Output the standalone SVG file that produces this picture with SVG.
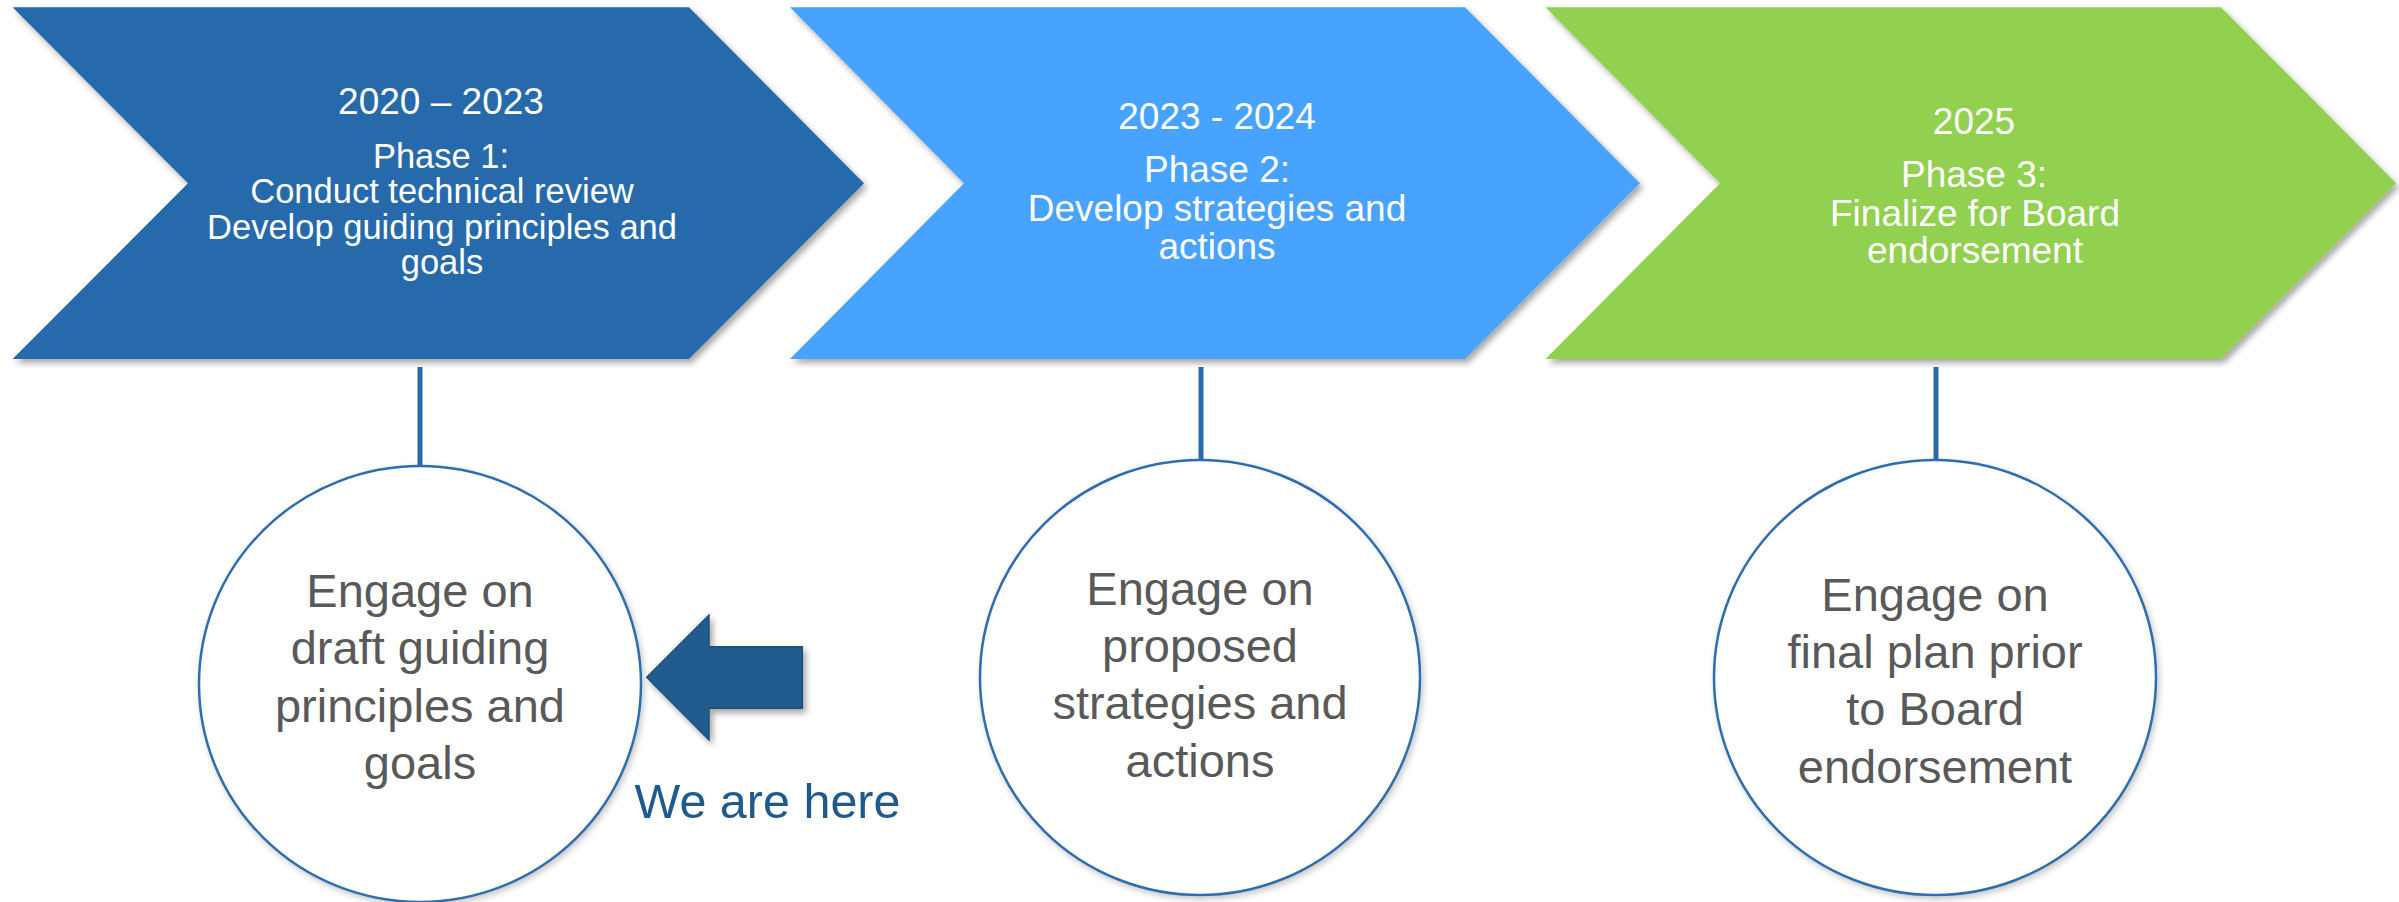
<svg xmlns="http://www.w3.org/2000/svg" width="2399" height="902" viewBox="0 0 2399 902">
<defs>
<filter id="sh" x="-5%" y="-5%" width="115%" height="120%">
<feDropShadow dx="3" dy="4" stdDeviation="3" flood-color="#000" flood-opacity="0.35"/>
</filter>
<filter id="shc" x="-5%" y="-5%" width="115%" height="115%">
<feDropShadow dx="2" dy="3" stdDeviation="3" flood-color="#000" flood-opacity="0.22"/>
</filter>
<style>
text{font-family:"Liberation Sans",Arial,sans-serif;text-anchor:middle}
.ct{fill:#ffffff}
.circ{fill:#ffffff;stroke:#2E6DB0;stroke-width:2.5}
.cx{fill:#595959;font-size:47px}
.conn{stroke:#2A6AAA;stroke-width:5;fill:none}
</style>
</defs>
<rect width="2399" height="902" fill="#ffffff"/>

<g id="phase1">
<path d="M12.6,7.3 L689,7.3 L864,183.3 L689,359 L12.6,359 L188,183.3 Z" fill="#286BAB" filter="url(#sh)"/>
<text class="ct" x="441" y="114" font-size="37">2020 – 2023</text>
<text class="ct" x="441" y="168" font-size="34.5">Phase 1:</text>
<text class="ct" x="442" y="202.5" font-size="34.5">Conduct technical review</text>
<text class="ct" x="442" y="239" font-size="34.5">Develop guiding principles and</text>
<text class="ct" x="442" y="273.5" font-size="34.5">goals</text>
</g>

<g id="phase2">
<path d="M790,7.3 L1465,7.3 L1640,183.3 L1465,359 L790,359 L964,183.3 Z" fill="#46A3FF" filter="url(#sh)"/>
<text class="ct" x="1217" y="128.5" font-size="37">2023 - 2024</text>
<text class="ct" x="1217" y="182" font-size="37">Phase 2:</text>
<text class="ct" x="1217" y="220.7" font-size="37">Develop strategies and</text>
<text class="ct" x="1217" y="258.5" font-size="37">actions</text>
</g>

<g id="phase3">
<path d="M1545.5,7.3 L2221,7.3 L2396,183.3 L2221,359 L1545.5,359 L1720,183.3 Z" fill="#92D050" filter="url(#sh)"/>
<text class="ct" x="1974" y="134" font-size="37">2025</text>
<text class="ct" x="1974" y="186.7" font-size="37">Phase 3:</text>
<text class="ct" x="1975" y="225.7" font-size="37">Finalize for Board</text>
<text class="ct" x="1975" y="263" font-size="37">endorsement</text>
</g>

<g id="connectors">
<line class="conn" x1="420" y1="367" x2="420" y2="466"/>
<line class="conn" x1="1201" y1="367" x2="1201" y2="460"/>
<line class="conn" x1="1936" y1="367" x2="1936" y2="460"/>
</g>

<g id="engage1">
<ellipse class="circ" cx="420" cy="684" rx="221" ry="218" filter="url(#shc)"/>
<text class="cx" x="420" y="607">Engage on</text>
<text class="cx" x="420" y="664">draft guiding</text>
<text class="cx" x="420" y="722">principles and</text>
<text class="cx" x="420" y="779">goals</text>
</g>

<g id="engage2">
<ellipse class="circ" cx="1200" cy="677.5" rx="220" ry="217.5" filter="url(#shc)"/>
<text class="cx" x="1200" y="604.5">Engage on</text>
<text class="cx" x="1200" y="661.5">proposed</text>
<text class="cx" x="1200" y="719">strategies and</text>
<text class="cx" x="1200" y="776.5">actions</text>
</g>

<g id="engage3">
<ellipse class="circ" cx="1935" cy="677.5" rx="221" ry="217.5" filter="url(#shc)"/>
<text class="cx" x="1935" y="610.6">Engage on</text>
<text class="cx" x="1935" y="668">final plan prior</text>
<text class="cx" x="1935" y="725">to Board</text>
<text class="cx" x="1935" y="783">endorsement</text>
</g>

<g id="here">
<path d="M646.7,677.3 L709,615 L709,646.7 L802.3,646.7 L802.3,708.3 L709,708.3 L709,740 Z" fill="#215B8F" stroke="#1B4F7E" stroke-width="1.5" filter="url(#sh)"/>
<text x="767.5" y="818" font-size="48.5" fill="#1F5A8E">We are here</text>
</g>
</svg>
